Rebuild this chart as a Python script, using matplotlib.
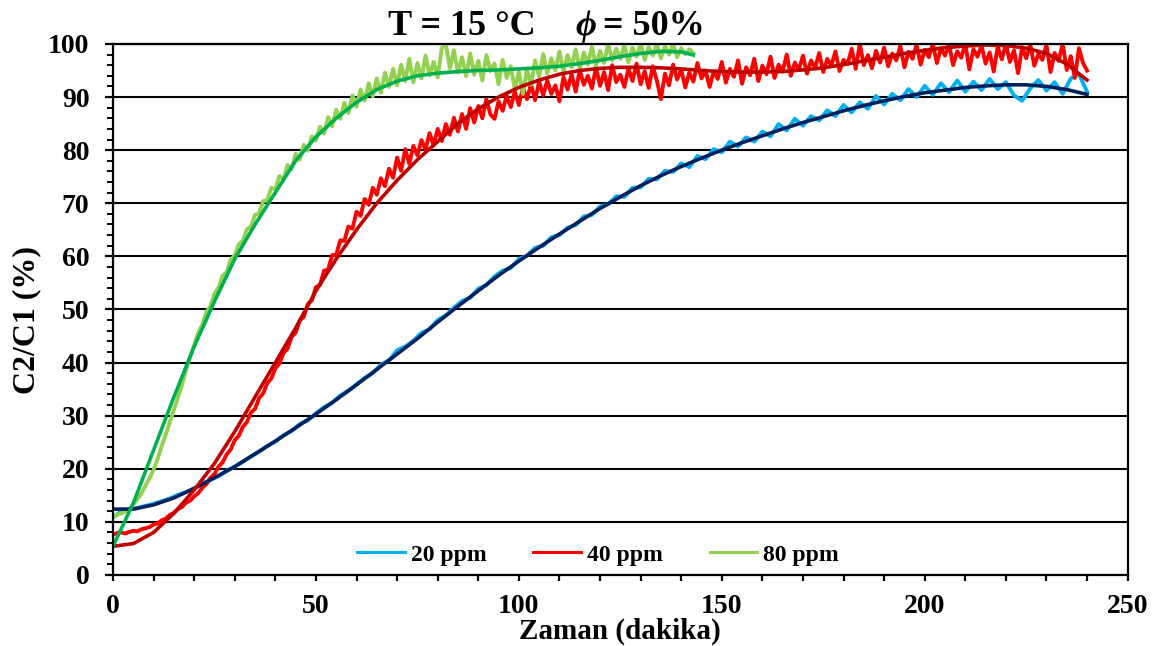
import numpy as np
import matplotlib
matplotlib.use('Agg')
import matplotlib.pyplot as plt
from matplotlib.ticker import MultipleLocator

plt.rcParams['font.family'] = ['Liberation Serif', 'DejaVu Serif']
plt.rcParams['font.weight'] = 'bold'

#measured data, 20 ppm (every 2 min)
t20 = np.arange(0, 241, 2)
c20 = [10.8, 12.0, 12.3, 12.6, 13.0, 13.4, 13.9, 14.4, 15.1, 15.6,
       16.3, 17.2, 17.9, 18.6, 19.6, 20.4, 21.3, 22.3, 23.2, 24.3,
       25.1, 26.3, 27.1, 28.4, 29.1, 30.4, 31.6, 32.4, 33.8, 34.7,
       35.9, 37.1, 38.0, 39.6, 40.4, 42.3, 43.0, 44.1, 45.6, 46.3,
       48.0, 48.9, 50.3, 51.6, 52.2, 53.9, 54.6, 56.2, 57.3, 57.8,
       59.5, 60.1, 61.6, 62.0, 63.6, 64.0, 65.4, 65.9, 67.5, 67.8,
       69.4, 69.8, 71.3, 71.2, 72.9, 73.0, 74.6, 74.5, 76.1, 75.9,
       77.5, 76.8, 78.9, 78.3, 80.2, 79.6, 81.6, 80.7, 82.4, 81.6,
       83.5, 82.6, 84.9, 83.7, 85.9, 84.6, 86.4, 85.6, 87.5, 86.4,
       88.5, 87.1, 89.0, 87.8, 90.2, 88.6, 90.6, 89.4, 91.5, 90.0,
       92.1, 90.4, 92.6, 90.9, 93.1, 91.0, 92.9, 91.3, 93.4, 91.5,
       92.8, 90.3, 89.3, 91.6, 93.2, 91.2, 92.8, 90.6, 93.5, 94.3,
       91.0]

#measured data, 40 ppm (every 1 min)
t40 = np.arange(0, 241, 1)
c40 = [7.6, 7.9, 8.0, 7.8, 8.1, 8.3, 8.2, 8.6, 8.8, 9.0,
       9.5, 9.7, 10.3, 10.6, 11.3, 11.7, 12.4, 12.8, 13.6, 14.0,
       14.8, 15.4, 16.4, 17.1, 18.3, 19.0, 20.4, 21.2, 22.7, 23.6,
       25.4, 26.2, 27.9, 28.8, 30.6, 31.3, 33.3, 34.2, 36.1, 37.0,
       38.9, 39.8, 41.8, 42.6, 44.8, 45.6, 47.9, 48.6, 51.0, 51.7,
       54.2, 54.6, 57.3, 57.5, 60.2, 60.3, 63.0, 62.9, 65.6, 65.2,
       68.4, 67.6, 70.8, 69.7, 72.9, 71.6, 74.7, 73.2, 76.5, 74.8,
       78.6, 76.1, 80.2, 77.4, 80.8, 79.0, 81.9, 80.1, 83.2, 80.9,
       84.0, 81.7, 84.9, 82.9, 86.1, 83.5, 86.8, 84.0, 87.9, 85.2,
       88.3, 86.0, 89.6, 86.7, 85.9, 89.2, 87.4, 90.3, 88.1, 91.0,
       88.5, 91.8, 89.6, 92.4, 89.4, 92.9, 90.3, 93.1, 90.6, 92.2,
       89.2, 93.8, 91.4, 94.3, 91.0, 95.1, 92.3, 94.0, 91.6, 95.6,
       92.1, 94.7, 91.3, 96.0, 92.8, 94.2, 91.9, 95.4, 93.0, 96.3,
       92.4, 94.9, 91.7, 95.8, 93.1, 89.6, 94.4, 92.2, 96.1, 93.3,
       95.2, 91.8, 94.6, 92.9, 96.4, 93.5, 95.0, 91.9, 94.8, 93.4,
       96.6, 92.7, 95.3, 93.8, 96.9, 92.5, 95.6, 94.1, 97.2, 93.0,
       95.9, 94.3, 97.6, 93.6, 96.1, 94.8, 98.0, 94.0, 96.5, 95.1,
       97.8, 94.4, 96.9, 95.5, 98.3, 94.7, 97.2, 95.9, 98.6, 94.9,
       97.0, 96.2, 99.1, 95.3, 100.0, 96.0, 97.9, 95.4, 98.7, 96.5,
       99.3, 95.8, 98.2, 96.9, 99.6, 95.6, 98.5, 97.2, 99.8, 96.1,
       98.9, 97.5, 100.0, 96.4, 99.2, 97.8, 99.9, 96.0, 98.6, 97.4,
       100.0, 95.2, 99.0, 97.6, 99.7, 96.3, 98.4, 94.8, 99.5, 97.1,
       100.0, 96.6, 98.8, 94.5, 99.4, 97.3, 100.0, 95.9, 98.1, 97.0,
       99.8, 94.7, 98.3, 96.8, 100.0, 95.1, 97.7, 93.6, 99.2, 96.4,
       95.0]

#measured data, 80 ppm (every 1 min)
t80 = np.arange(0, 144, 1)
c80 = [11.0, 11.3, 11.6, 11.9, 12.4, 13.3, 14.2, 15.4, 16.8, 18.2,
       19.8, 21.9, 24.3, 26.4, 28.8, 31.1, 33.4, 35.8, 38.6, 41.1,
       43.2, 45.6, 47.1, 49.5, 50.6, 52.9, 54.1, 56.3, 57.0, 59.4,
       60.2, 62.3, 62.9, 65.1, 65.6, 67.8, 68.1, 70.4, 70.5, 72.9,
       72.6, 75.1, 74.5, 77.2, 76.4, 79.3, 78.2, 81.0, 79.9, 82.6,
       81.8, 84.4, 83.1, 86.2, 84.5, 87.6, 85.9, 88.9, 87.0, 90.3,
       88.2, 91.4, 89.3, 92.6, 90.1, 93.5, 90.8, 94.6, 91.9, 95.3,
       92.2, 96.1, 93.0, 97.2, 92.8, 96.4, 93.5, 97.8, 94.1, 96.6,
       93.7, 99.2, 100.0, 95.4, 98.8, 94.6, 97.5, 93.9, 98.2, 94.2,
       96.8, 93.1, 97.9, 94.9, 96.3, 92.4, 97.0, 93.6, 95.8, 91.5,
       94.8, 90.6, 95.2, 92.3, 96.9, 93.8, 98.1, 94.4, 97.3, 95.0,
       98.6, 94.7, 97.9, 95.6, 99.0, 95.2, 98.4, 96.1, 99.5, 95.8,
       98.7, 96.4, 100.0, 96.9, 99.1, 97.2, 99.8, 96.5, 99.3, 97.6,
       100.0, 97.0, 99.4, 97.8, 100.0, 97.3, 99.6, 98.0, 100.0, 97.5,
       99.2, 98.1, 99.0, 98.3]

#fitted curves
tf = np.arange(0, 241, 5)
f20 = [12.4, 12.4, 13.2, 14.5, 16.3, 18.3, 20.4, 22.8, 25.2, 27.7,
       30.3, 33.0, 35.8, 38.7, 41.6, 44.5, 47.6, 50.6, 53.5, 56.4,
       59.1, 61.7, 64.2, 66.6, 69.0, 71.2, 73.3, 75.2, 76.9, 78.5,
       80.0, 81.4, 82.7, 84.0, 85.2, 86.3, 87.4, 88.4, 89.3, 90.1,
       90.8, 91.3, 91.8, 92.1, 92.3, 92.3, 92.0, 91.4, 90.5]
f40 = [5.4, 5.9, 8.0, 11.6, 16.0, 21.0, 27.0, 33.5, 40.0, 46.5,
       53.5, 59.5, 65.0, 70.0, 74.3, 78.2, 81.6, 85.0, 87.8, 90.0,
       91.8, 93.2, 94.3, 95.0, 95.4, 95.6, 95.6, 95.5, 95.3, 95.0,
       94.8, 94.7, 94.7, 94.8, 95.1, 95.5, 96.1, 96.8, 97.5, 98.2,
       98.8, 99.3, 99.6, 99.8, 99.7, 99.2, 98.2, 96.2, 93.2]
tf80 = [0, 5, 10, 15, 20, 25, 30, 35, 40, 45, 50, 55, 60, 65, 70,
        75, 80, 85, 90, 95, 100, 105, 110, 115, 120, 125, 130, 135, 140, 143]
f80 = [5.4, 13.5, 23.5, 33.5, 43.0, 51.5, 59.5, 66.0, 72.0, 78.0,
       82.5, 86.0, 89.0, 91.4, 93.0, 94.0, 94.5, 94.8, 95.0, 95.1,
       95.3, 95.5, 95.8, 96.3, 96.9, 97.6, 98.2, 98.6, 98.5, 97.9]

fig = plt.figure(figsize=(11.53, 6.46), dpi=100)
ax = fig.add_axes([0.098, 0.11, 0.88, 0.822])

#data
l20, = ax.plot(t20, c20, color='#00B0F0', lw=2.8, label='20 ppm')
l40, = ax.plot(t40, c40, color='#FF0000', lw=2.8, label='40 ppm')
l80, = ax.plot(t80, c80, color='#92D050', lw=2.8, label='80 ppm')
#fits
ax.plot(tf, f20, color='#002060', lw=2.6)
ax.plot(tf, f40, color='#C00000', lw=2.6)
ax.plot(tf80, f80, color='#00B050', lw=2.6)

ax.set_xlim(0, 250)
ax.set_ylim(0, 100)
ax.xaxis.set_major_locator(MultipleLocator(50))
ax.xaxis.set_minor_locator(MultipleLocator(10))
ax.yaxis.set_major_locator(MultipleLocator(10))
ax.yaxis.set_minor_locator(MultipleLocator(2))
ax.grid(True, axis='y', which='major', color='black', lw=1.5)
ax.set_axisbelow(True)

for s in ax.spines.values():
    s.set_linewidth(1.6)
ax.tick_params(axis='x', which='both', direction='out', length=4, width=1.6,
               pad=10, labelsize=20)
ax.tick_params(axis='y', which='major', direction='out', length=6, width=1.6,
               pad=11, labelsize=20)
ax.tick_params(axis='y', which='minor', direction='out', length=4.3, width=1.4)
for lab in ax.get_xticklabels() + ax.get_yticklabels():
    lab.set_fontweight('bold')

leg = ax.legend(handles=[l20, l40, l80], ncol=3, loc='center',
                bbox_to_anchor=(0.478, 0.038), frameon=False,
                prop={'size': 17, 'weight': 'bold'}, handlelength=2.0,
                handletextpad=0.25, columnspacing=2.0)
for h in leg.get_lines():
    h.set_linewidth(2.2)

#title pieces
fig.text(0.3365, 0.946, 'T = 15 °C', fontsize=26, fontweight='bold', va='baseline')
fig.text(0.4987, 0.946, 'ϕ', fontsize=26, fontweight='bold', style='italic', va='baseline')
fig.text(0.523, 0.946, '= 50%', fontsize=26, fontweight='bold', va='baseline')

fig.text(0.538, 0.022, 'Zaman (dakika)', fontsize=21, fontweight='bold', ha='center', va='center')
fig.text(0.023, 0.505, 'C2/C1 (%)', fontsize=23, fontweight='bold', rotation=90,
         ha='center', va='center')

fig.savefig('out.png', dpi=100)
